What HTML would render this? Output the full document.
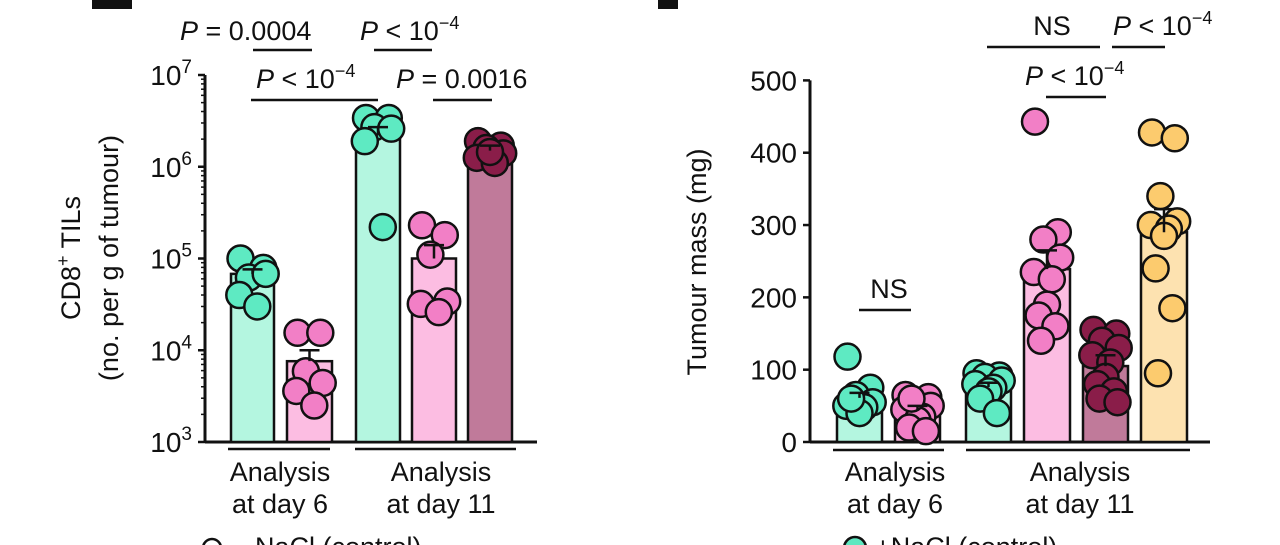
<!DOCTYPE html>
<html><head><meta charset="utf-8"><style>
html,body{margin:0;padding:0;background:#fff;}
svg{display:block;font-family:"Liberation Sans",sans-serif;}
</style></head><body>
<svg id="fig" width="1280" height="545" viewBox="0 0 1280 545" xmlns="http://www.w3.org/2000/svg">
<g><rect x="92" y="0" width="40" height="9" fill="#111"/></g>
<g><rect x="658" y="0" width="20" height="9" fill="#111"/></g>
<g id="left"></g>
<g id="right"></g>
<g>
<circle cx="212" cy="548" r="9" fill="#fff" stroke="#111" stroke-width="2.5"/>
<text x="255" y="556" font-size="27" fill="#111">NaCl (control)</text></g>
<g>
<circle cx="855" cy="548" r="11" fill="#5ee8c0" stroke="#111" stroke-width="2.5"/>
<text x="875" y="556" font-size="27" fill="#111">+NaCl (control)</text></g>
</svg>
<script>
// ---- Left chart data (CD8+ TILs, log scale) ----
const leftMeans = [6.8e4, 7.6e3, 2.2e6, 1.0e5, 1.5e6];
const leftErr = [7.6e4, 1.0e4, 2.7e6, 1.4e5, 1.7e6];
const leftDots = [
  [1.0e5, 7.9e4, 6.2e4, 6.8e4, 4.0e4, 3.0e4],
  [1.55e4, 1.55e4, 5.9e3, 4.4e3, 3.6e3, 2.5e3],
  [3.4e6, 3.4e6, 2.7e6, 2.6e6, 1.9e6, 2.2e5],
  [2.3e5, 1.8e5, 1.1e5, 3.4e4, 3.2e4, 2.6e4],
  [1.9e6, 1.7e6, 1.6e6, 1.4e6, 1.25e6, 1.1e6, 1.45e6]
];
const leftTicks = [3, 4, 5, 6, 7];
// ---- Right chart data (tumour mass, mg) ----
const rightMeans = [61, 43, 76, 239, 105, 290];
const rightErr = [68, 50, 82, 265, 120, 322];
const rightDots = [
  [118, 75, 65, 55, 50, 48, 40, 60],
  [65, 62, 55, 50, 45, 35, 30, 20, 15, 60],
  [95, 92, 90, 85, 80, 75, 70, 60, 40],
  [443, 290, 280, 255, 235, 225, 190, 175, 160, 140],
  [155, 150, 140, 130, 120, 110, 90, 80, 70, 60, 55],
  [428, 420, 340, 305, 300, 295, 285, 240, 185, 95]
];
const rightTicks = [0, 100, 200, 300, 400, 500];

const NS = "http://www.w3.org/2000/svg";
function mk(parent, tag, attrs, txt){
  const e = document.createElementNS(NS, tag);
  for (const k in attrs) e.setAttribute(k, attrs[k]);
  if (txt !== undefined) e.textContent = txt;
  parent.appendChild(e); return e;
}
const barCols = {mint:"#b4f6e0", pink:"#fcbde2", dark:"#c07a9a", orange:"#fde2b0"};
const dotCols = {mint:"#5eeac2", pink:"#f27fc6", dark:"#8a1d49", orange:"#fccb6e"};
const jit = [-10, 9, -3, 11, -11, 4, 0, -7, 7, -5, 10];

function drawChart(g, opt){
  const {x0, x1, y, bars, means, errs, dots, ticks, tickLabel, cols} = opt;
  const ax = mk(g, "g", {});
  
  
  mk(ax, "line", {x1:x0, y1:y(ticks[ticks.length-1]), x2:x0, y2:y(ticks[0]), stroke:"#111", "stroke-width":3});
  mk(ax, "line", {x1:x0, y1:y(ticks[0]), x2:x1, y2:y(ticks[0]), stroke:"#111", "stroke-width":3});
  ticks.forEach(t => {
    mk(ax, "line", {x1:x0-7, y1:y(t), x2:x0, y2:y(t), stroke:"#111", "stroke-width":2.5});
    const tl = mk(ax, "text", {x:x0-13, y:y(t)+10, "font-size":28, "text-anchor":"end", fill:"#111"});
    
    
    tickLabel(tl, t);
  });
  if (opt.minor) opt.minor(ax);
  means.forEach((m, i) => {
    const b = bars[i], cx = (b[0]+b[1])/2, base = y(ticks[0]);
    const rect = mk(g, "rect", {x:b[0], y:y(m), width:b[1]-b[0], height:base-y(m), fill:barCols[cols[i]], stroke:"#111", "stroke-width":2.5});
    
    
    dots[i].forEach((v, j) => {
      const c = mk(g, "circle", {cx:cx + jit[j % jit.length]*1.2, cy:y(v), r:13, fill:dotCols[cols[i]], stroke:"#111", "stroke-width":2.5});
      
      
    });
    const eb = mk(g, "path", {d:`M${cx},${y(m)} V${y(errs[i])} M${cx-10},${y(errs[i])} H${cx+10}`, stroke:"#111", "stroke-width":2.5, fill:"none"});
    
    
  });
}
function sup(el, base, exp){
  el.textContent = base;
  mk(el, "tspan", {"font-size":19, dy:-12}, exp);
}
function txt(parent, name, x, y, s, anchor){
  const t = mk(parent, "text", {x:x, y:y, "font-size":27, fill:"#111", "text-anchor":anchor||"middle"}, s);
  
  
  return t;
}
function pLt(parent, x, y){
  const t = mk(parent, "text", {x:x, y:y, "font-size":27, fill:"#111"});
  
  
  mk(t, "tspan", {"font-style":"italic"}, "P");
  mk(t, "tspan", {}, " < 10");
  mk(t, "tspan", {"font-size":18, dy:-11}, "\u22124");
}
function pEq(parent, x, y, v){
  const t = mk(parent, "text", {x:x, y:y, "font-size":27, fill:"#111"});
  
  
  mk(t, "tspan", {"font-style":"italic"}, "P");
  mk(t, "tspan", {}, " = " + v);
}
function line(parent, x1, x2, y){
  const l = mk(parent, "line", {x1:x1, x2:x2, y1:y, y2:y, stroke:"#111", "stroke-width":2.5});
  
  
}

// Left
const L = document.getElementById("left");
const yL = v => 442 - (Math.log10(v) - 3) * 91.75;
drawChart(L, {
  x0:205, x1:537, y:yL,
  bars:[[231,274],[287,332],[356,400],[412,456],[468,512]],
  means:leftMeans, errs:leftErr, dots:leftDots,
  ticks:leftTicks.map(t => Math.pow(10, t)),
  tickLabel:(el, t) => sup(el, "10", String(Math.round(Math.log10(t)))),
  cols:["mint","pink","mint","pink","dark"],
  minor:(ax) => {
    for (let d = 3; d < 7; d++) for (let k = 2; k < 10; k++) {
      const yy = yL(k * Math.pow(10, d));
      mk(ax, "line", {x1:201, y1:yy, x2:205, y2:yy, stroke:"#111", "stroke-width":1.5});
    }
  }
});
pEq(L, 180, 40, "0.0004"); line(L, 253, 312, 50);
pLt(L, 360, 40); line(L, 374, 432, 50);
pLt(L, 256, 88); line(L, 251, 378, 100);
pEq(L, 396, 88, "0.0016"); line(L, 433, 492, 100);
line(L, 228, 330, 449); line(L, 355, 516, 449);
txt(L, "group-label", 280, 481, "Analysis"); txt(L, "group-label", 280, 513, "at day 6");
txt(L, "group-label", 441, 481, "Analysis"); txt(L, "group-label", 441, 513, "at day 11");
const ylab = mk(L, "text", {transform:"translate(80,258) rotate(-90)", "font-size":27, "text-anchor":"middle", fill:"#111"});


mk(ylab, "tspan", {}, "CD8");
mk(ylab, "tspan", {"font-size":18, dy:-11}, "+");
mk(ylab, "tspan", {dy:11}, " TILs");
const ylab2 = txt(L, "y-axis-subtitle", 0, 0, "(no. per g of tumour)");
ylab2.setAttribute("transform", "translate(118,258) rotate(-90)");

// Right
const R = document.getElementById("right");
const yR = v => 442 - v * 0.7232;
drawChart(R, {
  x0:810, x1:1210, y:yR,
  bars:[[837,882],[895,940],[966,1011],[1024,1070],[1083,1128],[1141,1187]],
  means:rightMeans, errs:rightErr, dots:rightDots,
  ticks:rightTicks,
  tickLabel:(el, t) => { el.textContent = String(t); },
  cols:["mint","pink","mint","pink","dark","orange"]
});
txt(R, "ns-label", 889, 298, "NS"); line(R, 859, 911, 310);
txt(R, "ns-label", 1052, 35, "NS"); line(R, 987, 1100, 47);
pLt(R, 1113, 35); line(R, 1112, 1165, 47);
pLt(R, 1025, 85); line(R, 1046, 1106, 97);
line(R, 833, 944, 450); line(R, 966, 1190, 450);
txt(R, "group-label", 895, 481, "Analysis"); txt(R, "group-label", 895, 513, "at day 6");
txt(R, "group-label", 1080, 481, "Analysis"); txt(R, "group-label", 1080, 513, "at day 11");
const ylR = txt(R, "y-axis-title", 0, 0, "Tumour mass (mg)");
ylR.setAttribute("transform", "translate(706,262) rotate(-90)");
</script>
</body></html>
